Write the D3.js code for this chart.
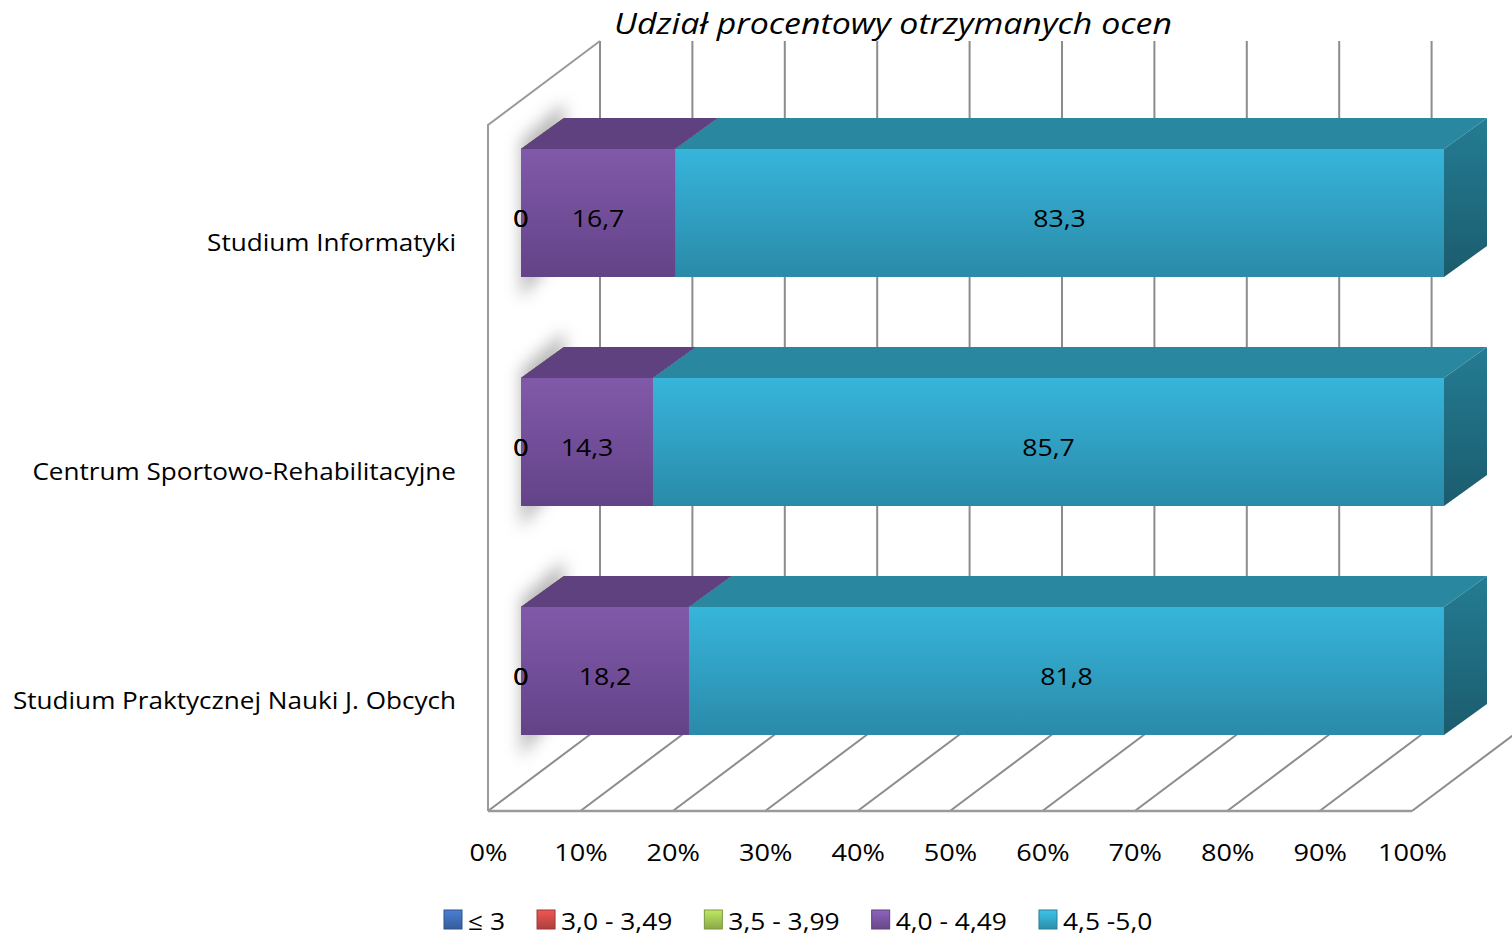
<!DOCTYPE html>
<html>
<head>
<meta charset="utf-8">
<script src="https://cdn.jsdelivr.net/npm/d3@7"></script>
<style>
  body { margin: 0; background: #fff; }
  svg { display: block; }
  text { font-family: "Open Sans", Lato, sans-serif; fill: #000; }
</style>
</head>
<body>
<script>
var width = 1512;
var height = 938;

// data
var categories = ["Studium Informatyki", "Centrum Sportowo-Rehabilitacyjne", "Studium Praktycznej Nauki J. Obcych"];
var seriesNames = ["≤ 3", "3,0 - 3,49", "3,5 - 3,99", "4,0 - 4,49", "4,5 -5,0"];
var valuesLe3 = [0, 0, 0];
var values30 = [0, 0, 0];
var values35 = [0, 0, 0];
var values40 = [16.7, 14.3, 18.2];
var values45 = [83.3, 85.7, 81.8];
var tickValues = [0, 10, 20, 30, 40, 50, 60, 70, 80, 90, 100];
var title = "Udział procentowy otrzymanych ocen";

var allValues = [valuesLe3, values30, values35, values40, values45];
var rows = categories.map(function(c, i) {
    var r = { cat: c };
    seriesNames.forEach(function(s, j) { r[s] = allValues[j][i]; });
    return r;
});
var stacked = d3.stack().keys(seriesNames)(rows);

// colours: front top, front bottom, top face, side top, side bottom, legend
var colors = [
    { ft: "#4a7ec4", fb: "#345f9c", top: "#2f5688", st: "#2c5282", sb: "#213e63", lg: "#3f6fb8" },
    { ft: "#d05a57", fb: "#a63c3a", top: "#923533", st: "#8c3331", sb: "#6a2625", lg: "#cf4b48" },
    { ft: "#a8c95e", fb: "#86a444", top: "#77923b", st: "#718c38", sb: "#566b2a", lg: "#a5c955" },
    { ft: "#8159a9", fb: "#634388", top: "#5f417f", st: "#5a3d79", sb: "#45305d", lg: "#7b56a4" },
    { ft: "#37b5db", fb: "#2a8aa9", top: "#2988a0", st: "#247c93", sb: "#1b5c6d", lg: "#34aacb" }
];

var svg = d3.select("body").append("svg")
    .attr("width", width)
    .attr("height", height);

// widen text a little around its anchor point (the source font is wide)
function stretch(sel, sx) {
    sel.attr("transform", function() {
        var x = +this.getAttribute("x") || 0, y = +this.getAttribute("y") || 0;
        return "translate(" + x + "," + y + ") scale(" + sx + ",1) translate(" + (-x) + "," + (-y) + ")";
    });
}

var defs = svg.append("defs");
colors.forEach(function(c, i) {
    var g = defs.append("linearGradient").attr("id", "front" + i)
        .attr("x1", 0).attr("y1", 0).attr("x2", 0).attr("y2", 1);
    g.append("stop").attr("offset", "0%").attr("stop-color", c.ft);
    g.append("stop").attr("offset", "100%").attr("stop-color", c.fb);
    var s = defs.append("linearGradient").attr("id", "side" + i)
        .attr("x1", 0).attr("y1", 0).attr("x2", 0).attr("y2", 1);
    s.append("stop").attr("offset", "0%").attr("stop-color", c.st);
    s.append("stop").attr("offset", "100%").attr("stop-color", c.sb);
});
defs.append("filter").attr("id", "blur")
    .attr("x", "-50%").attr("y", "-50%").attr("width", "200%").attr("height", "200%")
    .append("feGaussianBlur").attr("stdDeviation", 8);

// 3D frame
var xFront = d3.scaleLinear().domain([0, 100]).range([488, 1412]);
var depthX = 112, depthY = -84;
var floorY = 811, wallTop = 125;

var gridColor = "#8c8c8c";

// back wall gridlines
svg.append("g").selectAll("line")
    .data(tickValues)
    .join("line")
    .attr("x1", function(d) { return xFront(d) + depthX; })
    .attr("x2", function(d) { return xFront(d) + depthX; })
    .attr("y1", wallTop + depthY)
    .attr("y2", floorY + depthY)
    .attr("stroke", gridColor)
    .attr("stroke-width", 2);

// left wall
svg.append("path")
    .attr("d", "M" + xFront(0) + "," + floorY +
        "L" + xFront(0) + "," + wallTop +
        "L" + (xFront(0) + depthX) + "," + (wallTop + depthY))
    .attr("fill", "none")
    .attr("stroke", "#9a9a9a")
    .attr("stroke-width", 2);

// floor lines
svg.append("g").selectAll("line")
    .data(tickValues)
    .join("line")
    .attr("x1", function(d) { return xFront(d); })
    .attr("y1", floorY)
    .attr("x2", function(d) { return xFront(d) + depthX; })
    .attr("y2", floorY + depthY)
    .attr("stroke", gridColor)
    .attr("stroke-width", 2);

svg.append("line")
    .attr("x1", xFront(0)).attr("x2", xFront(100))
    .attr("y1", floorY).attr("y2", floorY)
    .attr("stroke", "#9a9a9a")
    .attr("stroke-width", 2.5);

// bars
var xBar = d3.scaleLinear().domain([0, 100]).range([521, 1444]);
var yBand = d3.scaleBand().domain(categories)
    .range([98.5, 785.5])
    .paddingInner(0.441)
    .paddingOuter(0.2205);
var bw = yBand.bandwidth();
var bdx = 43, bdy = -31;

function poly(pts) {
    return "M" + pts.map(function(p) { return p.join(","); }).join("L") + "Z";
}

// soft shadow at the left end of each bar
svg.append("g").selectAll("path")
    .data(categories)
    .join("path")
    .attr("d", function(c) {
        var x = xBar(0), y = yBand(c);
        return poly([[x, y - 8], [x + bdx, y + bdy - 16], [x + bdx, y + bw + bdy], [x, y + bw + 22]]);
    })
    .attr("fill", "#9a9a9a")
    .attr("opacity", 0.7)
    .attr("filter", "url(#blur)");

var barG = svg.append("g");
categories.forEach(function(c, i) {
    var y = yBand(c);
    stacked.forEach(function(series, j) {
        var x0 = xBar(series[i][0]), x1 = xBar(series[i][1]);
        barG.append("path")
            .attr("d", poly([[x0, y], [x1, y], [x1 + bdx, y + bdy], [x0 + bdx, y + bdy]]))
            .attr("fill", colors[j].top);
        barG.append("rect")
            .attr("x", x0).attr("y", y)
            .attr("width", x1 - x0).attr("height", bw)
            .attr("fill", "url(#front" + j + ")");
        barG.append("path")
            .attr("d", poly([[x1, y], [x1 + bdx, y + bdy], [x1 + bdx, y + bw + bdy], [x1, y + bw]]))
            .attr("fill", "url(#side" + j + ")");
    });
});

// data labels
var labelG = svg.append("g");
stacked.forEach(function(series, j) {
    labelG.selectAll(null)
        .data(series)
        .join("text")
        .attr("x", function(d) { return xBar((d[0] + d[1]) / 2); })
        .attr("y", function(d) { return yBand(d.data.cat) + bw / 2 + 5; })
        .attr("text-anchor", "middle")
        .attr("dominant-baseline", "central")
        .attr("font-size", "24px")
        .text(function(d) { return String(d.data[series.key]).replace(".", ","); })
        .call(stretch, 1.11);
});

// category labels
svg.append("g").selectAll("text")
    .data(categories)
    .join("text")
    .attr("x", 456)
    .attr("y", function(c) { return yBand(c) + bw / 2 + 29; })
    .attr("text-anchor", "end")
    .attr("dominant-baseline", "central")
    .attr("font-size", "23px")
    .text(function(c) { return c; })
    .call(stretch, 1.135);

// x axis labels
var axis = svg.append("g")
    .attr("transform", "translate(0," + floorY + ")")
    .call(d3.axisBottom(xFront).tickValues(tickValues).tickSize(0).tickPadding(33)
        .tickFormat(function(d) { return d + "%"; }));
axis.select(".domain").remove();
axis.selectAll("text")
    .attr("font-size", "24px")
    .attr("font-family", "'Open Sans', Lato, sans-serif")
    .attr("fill", "#000")
    .call(stretch, 1.13);

// title
svg.append("text")
    .attr("x", 893)
    .attr("y", 34)
    .attr("text-anchor", "middle")
    .attr("font-size", "30px")
    .attr("font-style", "italic")
    .text(title)
    .call(stretch, 1.13);

// legend
var lx = 444;
seriesNames.forEach(function(s, j) {
    var g = svg.append("g").attr("transform", "translate(" + lx + ",910)");
    var lg = defs.append("linearGradient").attr("id", "leg" + j)
        .attr("x1", 0).attr("y1", 0).attr("x2", 0).attr("y2", 1);
    lg.append("stop").attr("offset", "0%").attr("stop-color", d3.color(colors[j].lg).brighter(0.4));
    lg.append("stop").attr("offset", "100%").attr("stop-color", d3.color(colors[j].lg).darker(0.5));
    g.append("rect")
        .attr("x", 0).attr("y", 0)
        .attr("width", 18).attr("height", 19)
        .attr("fill", "url(#leg" + j + ")")
        .attr("stroke", d3.color(colors[j].lg).darker(0.8))
        .attr("stroke-width", 1);
    var t = g.append("text")
        .attr("x", 24)
        .attr("y", 10)
        .attr("dominant-baseline", "central")
        .attr("font-size", "24px")
        .text(s)
        .call(stretch, 1.1);
    lx += 24 + t.node().getComputedTextLength() * 1.1 + 32;
});
</script>
</body>
</html>
